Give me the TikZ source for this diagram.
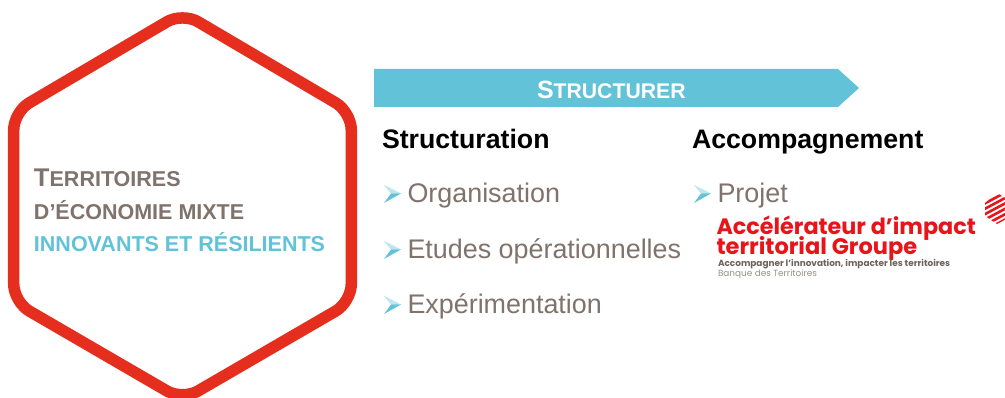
\documentclass[tikz,border=0pt]{standalone}
\usepackage{fontspec}
\setmainfont{Liberation Sans}
\newfontfamily\popp{Poppins}
\definecolor{hexred}{HTML}{E52E1E}
\definecolor{cyanb}{HTML}{62C2D8}
\definecolor{cyanl}{HTML}{BFE6EF}
\definecolor{taupe}{HTML}{7F736C}
\definecolor{logored}{HTML}{E8141A}
\newcommand{\fs}[1]{\fontsize{#1}{#1}\selectfont}
\tikzset{
 txt/.style={inner sep=0pt,outer sep=0pt,anchor=base west},
 headtxt/.style={txt,font=\bfseries\fs{26.7},text=black},
 itemtxt/.style={txt,font=\fs{26.9},text=taupe},
 hextxt/.style={txt,font=\bfseries\fs{21.5},text=taupe},
 bulletmark/.pic={
   \fill[cyanl] (0,-8.5) -- (17,0) -- (7,0) -- cycle;
   \fill[cyanb] (0,9.5) -- (17,0) -- (7,0) -- cycle;
 },
}
\begin{document}
\begin{tikzpicture}[x=1pt,y=-1pt]
\useasboundingbox (0,0) rectangle (1005,398);
\fill[white] (0,0) rectangle (1005,398);
% hexagon
\begin{scope}
\clip (0,0) rectangle (1005,398);
\draw[hexred,line width=11.5pt,line join=round,rounded corners=18pt]
 (182.5,12.6) -- (351.3,112) -- (351.3,302) -- (182.5,400) -- (13.7,302) -- (13.7,112) -- cycle;
\end{scope}
\node[hextxt] (h1) at (34,186.5) {\fs{25.6}T\fs{21.5}ERRITOIRES};
\node[hextxt] (h2) at (34,219.5) {D’ÉCONOMIE MIXTE};
\node[hextxt,text=cyanb] (h3) at (34,251.5) {INNOVANTS ET RÉSILIENTS};
% banner
\fill[cyanb] (374,69) -- (838,69) -- (859,88) -- (838,107) -- (374,107) -- cycle;
\node[txt,text=white,font=\bfseries\fs{25}] (banner) at (537,98.5) {S\fs{21.2}TRUCTURER};
% columns
\node[headtxt] (s) at (382,148.7) {Structuration};
\node[headtxt] (a) at (692,148.7) {Accompagnement};
\pic at (384,193.5) {bulletmark};
\node[itemtxt] (i1) at (407.5,202.7) {Organisation};
\pic at (384,249.5) {bulletmark};
\node[itemtxt] (i2) at (407.5,258.7) {Etudes opérationnelles};
\pic at (384,304.5) {bulletmark};
\node[itemtxt] (i3) at (407.5,313.7) {Expérimentation};
\pic at (694,193.5) {bulletmark};
\node[itemtxt] (i4) at (717.5,202.7) {Projet};
% logo
\node[txt,text=logored,font=\popp\bfseries\fs{22.3}] (l1) at (716.5,234.5) {Accélérateur d’impact};
\node[txt,text=logored,font=\popp\bfseries\fs{22.5}] (l2) at (716.5,255) {territorial Groupe};
\node[txt,text=taupe!85!black,font=\popp\bfseries\fs{8.9}] (l3) at (718,266.5) {Accompagner l’innovation, impacter les territoires};
\node[txt,text=taupe!80,font=\popp\fs{8.9}] (l4) at (718,277) {Banque des Territoires};
% logo mark
\begin{scope}
\clip (997,193) -- (1016,204) -- (1016,214) -- (997,224) -- (985,216) -- (985,203) -- cycle;
\foreach \k in {0,1,...,5}
  \draw[logored,line width=2.6pt] (980,{206+\k*5.4}) -- (1010,{190+\k*5.4});
\end{scope}
\end{tikzpicture}
\end{document}
